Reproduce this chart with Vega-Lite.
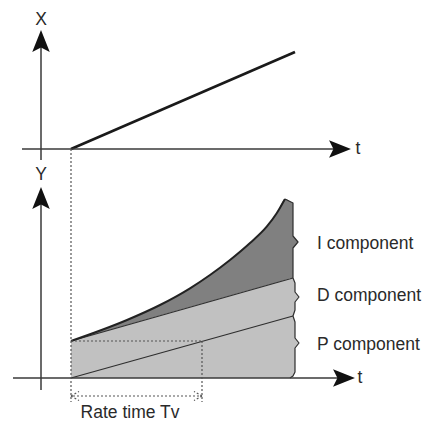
{
  "$schema": "https://vega.github.io/schema/vega-lite/v6.json",
  "width": 435,
  "height": 426,
  "padding": 0,
  "autosize": {"type": "none"},
  "background": "white",
  "config": {"view": {"stroke": null}},
  "datasets": {
    "bodies": [
      {"part": "light", "t": 0, "top": 3.7, "bottom": 0},
      {"part": "light", "t": 22.0, "top": 9.97, "bottom": 0},
      {"part": "dark", "t": 0, "top": 3.7, "bottom": 3.7},
      {"part": "dark", "t": 5.6, "top": 5.8, "bottom": 5.3},
      {"part": "dark", "t": 8.9, "top": 7.3, "bottom": 6.24},
      {"part": "dark", "t": 11.9, "top": 8.97, "bottom": 7.09},
      {"part": "dark", "t": 13.9, "top": 10.3, "bottom": 7.66},
      {"part": "dark", "t": 15.9, "top": 11.8, "bottom": 8.23},
      {"part": "dark", "t": 17.9, "top": 13.5, "bottom": 8.8},
      {"part": "dark", "t": 19.57, "top": 15.13, "bottom": 9.28},
      {"part": "dark", "t": 20.57, "top": 16.47, "bottom": 9.56},
      {"part": "dark", "t": 21.4, "top": 17.9, "bottom": 9.8},
      {"part": "dark", "t": 22.0, "top": 17.6, "bottom": 9.97}
    ],
    "edge": [
      {"part": "dark", "v": 17.6, "te": 22.0, "tb": 21.8},
      {"part": "dark", "v": 17.5, "te": 22.2, "tb": 21.8},
      {"part": "dark", "v": 14.2, "te": 22.2, "tb": 21.8},
      {"part": "dark", "v": 13.6, "te": 22.7, "tb": 21.8},
      {"part": "dark", "v": 13.0, "te": 22.2, "tb": 21.8},
      {"part": "dark", "v": 10.0, "te": 22.2, "tb": 21.8},
      {"part": "light", "v": 10.0, "te": 22.2, "tb": 21.8},
      {"part": "light", "v": 9.5, "te": 22.4, "tb": 21.8},
      {"part": "light", "v": 8.6, "te": 22.4, "tb": 21.8},
      {"part": "light", "v": 8.1, "te": 22.8, "tb": 21.8},
      {"part": "light", "v": 7.6, "te": 22.4, "tb": 21.8},
      {"part": "light", "v": 6.8, "te": 22.4, "tb": 21.8},
      {"part": "light", "v": 6.2, "te": 22.2, "tb": 21.8},
      {"part": "light", "v": 5.6, "te": 22.4, "tb": 21.8},
      {"part": "light", "v": 4.0, "te": 22.4, "tb": 21.8},
      {"part": "light", "v": 3.5, "te": 22.8, "tb": 21.8},
      {"part": "light", "v": 3.0, "te": 22.4, "tb": 21.8},
      {"part": "light", "v": 0.6, "te": 22.4, "tb": 21.8},
      {"part": "light", "v": 0.2, "te": 22.2, "tb": 21.8},
      {"part": "light", "v": 0.0, "te": 21.9, "tb": 21.8}
    ],
    "outline": [
      {"id": "I", "ord": 0, "t": 0, "v": 3.7},
      {"id": "I", "ord": 1, "t": 5.6, "v": 5.8},
      {"id": "I", "ord": 2, "t": 8.9, "v": 7.3},
      {"id": "I", "ord": 3, "t": 11.9, "v": 8.97},
      {"id": "I", "ord": 4, "t": 13.9, "v": 10.3},
      {"id": "I", "ord": 5, "t": 15.9, "v": 11.8},
      {"id": "I", "ord": 6, "t": 17.9, "v": 13.5},
      {"id": "I", "ord": 7, "t": 19.57, "v": 15.13},
      {"id": "I", "ord": 8, "t": 20.57, "v": 16.47},
      {"id": "I", "ord": 9, "t": 21.4, "v": 17.9},
      {"id": "D", "ord": 0, "t": 0, "v": 3.7},
      {"id": "D", "ord": 1, "t": 22.2, "v": 10.0},
      {"id": "P", "ord": 0, "t": 0, "v": 0},
      {"id": "P", "ord": 1, "t": 22.2, "v": 6.2},
      {"id": "E", "ord": 0, "t": 21.4, "v": 17.9},
      {"id": "E", "ord": 1, "t": 22.2, "v": 17.5},
      {"id": "E", "ord": 2, "t": 22.2, "v": 14.2},
      {"id": "E", "ord": 3, "t": 22.7, "v": 13.6},
      {"id": "E", "ord": 4, "t": 22.2, "v": 13.0},
      {"id": "E", "ord": 5, "t": 22.2, "v": 10.0},
      {"id": "E", "ord": 6, "t": 22.4, "v": 9.5},
      {"id": "E", "ord": 7, "t": 22.4, "v": 8.6},
      {"id": "E", "ord": 8, "t": 22.8, "v": 8.1},
      {"id": "E", "ord": 9, "t": 22.4, "v": 7.6},
      {"id": "E", "ord": 10, "t": 22.4, "v": 6.8},
      {"id": "E", "ord": 11, "t": 22.2, "v": 6.2},
      {"id": "E", "ord": 12, "t": 22.4, "v": 5.6},
      {"id": "E", "ord": 13, "t": 22.4, "v": 4.0},
      {"id": "E", "ord": 14, "t": 22.8, "v": 3.5},
      {"id": "E", "ord": 15, "t": 22.4, "v": 3.0},
      {"id": "E", "ord": 16, "t": 22.4, "v": 0.6},
      {"id": "E", "ord": 17, "t": 22.2, "v": 0.2},
      {"id": "E", "ord": 18, "t": 21.9, "v": 0.0},
      {"id": "R", "ord": 0, "t": 0, "v": 22.9},
      {"id": "R", "ord": 1, "t": 22.4, "v": 32.6}
    ],
    "axes": [
      {"t": -3, "t2": -3, "v": 21.8, "v2": 33.3},
      {"t": -4.9, "t2": 26.5, "v": 22.9, "v2": 22.9},
      {"t": -3, "t2": -3, "v": -1.2, "v2": 17.6},
      {"t": -5.8, "t2": 27.0, "v": 0, "v2": 0}
    ],
    "dotted": [
      {"t": 0, "t2": 0, "v": 22.9, "v2": -2.4},
      {"t": 0, "t2": 13.1, "v": 3.7, "v2": 3.7},
      {"t": 13.1, "t2": 13.1, "v": 3.7, "v2": -2.4},
      {"t": 0.2, "t2": 12.9, "v": -1.8, "v2": -1.8},
      {"t": 0, "t2": 0.8, "v": -1.8, "v2": -1.35},
      {"t": 0, "t2": 0.8, "v": -1.8, "v2": -2.25},
      {"t": 13.1, "t2": 12.3, "v": -1.8, "v2": -1.35},
      {"t": 13.1, "t2": 12.3, "v": -1.8, "v2": -2.25}
    ],
    "arrows": [
      {"t": -3, "v": 33.7, "angle": 0},
      {"t": 26.9, "v": 22.9, "angle": 90},
      {"t": -3, "v": 18.0, "angle": 0},
      {"t": 27.3, "v": 0, "angle": 90}
    ],
    "labels": [
      {"label": "X", "t": -3, "v": 35.8},
      {"label": "Y", "t": -3, "v": 20.3},
      {"label": "t", "t": 28.7, "v": 22.9},
      {"label": "t", "t": 28.9, "v": 0},
      {"label": "Rate time Tv", "t": 5.9, "v": -3.5}
    ],
    "comps": [
      {"label": "I component", "t": 24.6, "v": 13.4},
      {"label": "D component", "t": 24.6, "v": 8.2},
      {"label": "P component", "t": 24.6, "v": 3.3}
    ]
  },
  "layer": [
    {
      "data": {"name": "bodies"},
      "mark": {"type": "area", "opacity": 1, "interpolate": "monotone"},
      "encoding": {
        "x": {"field": "t", "type": "quantitative", "scale": {"domain": [-7.1, 36.4], "nice": false, "zero": false}, "axis": null},
        "y": {"field": "top", "type": "quantitative", "stack": null, "scale": {"domain": [-4.8, 37.8], "nice": false, "zero": false}, "axis": null},
        "y2": {"field": "bottom"},
        "color": {"field": "part", "type": "nominal", "scale": {"domain": ["light", "dark"], "range": ["#c1c1c1", "#808080"]}, "legend": null}
      }
    },
    {
      "data": {"name": "edge"},
      "mark": {"type": "area", "orient": "horizontal", "opacity": 1},
      "encoding": {
        "y": {"field": "v", "type": "quantitative", "scale": {"domain": [-4.8, 37.8], "nice": false, "zero": false}, "axis": null},
        "x": {"field": "te", "type": "quantitative", "stack": null, "scale": {"domain": [-7.1, 36.4], "nice": false, "zero": false}, "axis": null},
        "x2": {"field": "tb"},
        "color": {"field": "part", "type": "nominal", "scale": {"domain": ["light", "dark"], "range": ["#c1c1c1", "#808080"]}, "legend": null}
      }
    },
    {
      "data": {"name": "outline"},
      "transform": [{"filter": "datum.id == 'D' || datum.id == 'P' || datum.id == 'E'"}],
      "mark": {"type": "line", "color": "#2e2e2e", "strokeWidth": 1.2, "strokeJoin": "round"},
      "encoding": {
        "x": {"field": "t", "type": "quantitative", "scale": {"domain": [-7.1, 36.4], "nice": false, "zero": false}, "axis": null},
        "y": {"field": "v", "type": "quantitative", "scale": {"domain": [-4.8, 37.8], "nice": false, "zero": false}, "axis": null},
        "detail": {"field": "id", "type": "nominal"},
        "order": {"field": "ord", "type": "quantitative"}
      }
    },
    {
      "data": {"name": "outline"},
      "transform": [{"filter": "datum.id == 'I'"}],
      "mark": {"type": "line", "color": "#222222", "strokeWidth": 2, "interpolate": "monotone"},
      "encoding": {
        "x": {"field": "t", "type": "quantitative", "scale": {"domain": [-7.1, 36.4], "nice": false, "zero": false}, "axis": null},
        "y": {"field": "v", "type": "quantitative", "scale": {"domain": [-4.8, 37.8], "nice": false, "zero": false}, "axis": null},
        "order": {"field": "ord", "type": "quantitative"}
      }
    },
    {
      "data": {"name": "outline"},
      "transform": [{"filter": "datum.id == 'R'"}],
      "mark": {"type": "line", "color": "#1a1a1a", "strokeWidth": 2.6},
      "encoding": {
        "x": {"field": "t", "type": "quantitative", "scale": {"domain": [-7.1, 36.4], "nice": false, "zero": false}, "axis": null},
        "y": {"field": "v", "type": "quantitative", "scale": {"domain": [-4.8, 37.8], "nice": false, "zero": false}, "axis": null},
        "order": {"field": "ord", "type": "quantitative"}
      }
    },
    {
      "data": {"name": "axes"},
      "mark": {"type": "rule", "color": "#3a3a3a", "strokeWidth": 1.5},
      "encoding": {
        "x": {"field": "t", "type": "quantitative", "scale": {"domain": [-7.1, 36.4], "nice": false, "zero": false}, "axis": null},
        "x2": {"field": "t2"},
        "y": {"field": "v", "type": "quantitative", "scale": {"domain": [-4.8, 37.8], "nice": false, "zero": false}, "axis": null},
        "y2": {"field": "v2"}
      }
    },
    {
      "data": {"name": "dotted"},
      "mark": {"type": "rule", "color": "#555555", "strokeWidth": 1.2, "strokeDash": [2, 2]},
      "encoding": {
        "x": {"field": "t", "type": "quantitative", "scale": {"domain": [-7.1, 36.4], "nice": false, "zero": false}, "axis": null},
        "x2": {"field": "t2"},
        "y": {"field": "v", "type": "quantitative", "scale": {"domain": [-4.8, 37.8], "nice": false, "zero": false}, "axis": null},
        "y2": {"field": "v2"}
      }
    },
    {
      "data": {"name": "arrows"},
      "mark": {"type": "point", "shape": "M0,-1L0.8,1L0,0.6L-0.8,1Z", "filled": true, "color": "#111111", "size": 480, "opacity": 1},
      "encoding": {
        "x": {"field": "t", "type": "quantitative", "scale": {"domain": [-7.1, 36.4], "nice": false, "zero": false}, "axis": null},
        "y": {"field": "v", "type": "quantitative", "scale": {"domain": [-4.8, 37.8], "nice": false, "zero": false}, "axis": null},
        "angle": {"field": "angle", "type": "quantitative", "scale": null}
      }
    },
    {
      "data": {"name": "labels"},
      "mark": {"type": "text", "font": "Liberation Sans", "fontSize": 17.5, "color": "#2a2a2a", "align": "center", "baseline": "middle"},
      "encoding": {
        "x": {"field": "t", "type": "quantitative", "scale": {"domain": [-7.1, 36.4], "nice": false, "zero": false}, "axis": null},
        "y": {"field": "v", "type": "quantitative", "scale": {"domain": [-4.8, 37.8], "nice": false, "zero": false}, "axis": null},
        "text": {"field": "label", "type": "nominal"}
      }
    },
    {
      "data": {"name": "comps"},
      "mark": {"type": "text", "font": "Liberation Sans", "fontSize": 17.5, "color": "#2a2a2a", "align": "left", "baseline": "middle"},
      "encoding": {
        "x": {"field": "t", "type": "quantitative", "scale": {"domain": [-7.1, 36.4], "nice": false, "zero": false}, "axis": null},
        "y": {"field": "v", "type": "quantitative", "scale": {"domain": [-4.8, 37.8], "nice": false, "zero": false}, "axis": null},
        "text": {"field": "label", "type": "nominal"}
      }
    }
  ]
}
